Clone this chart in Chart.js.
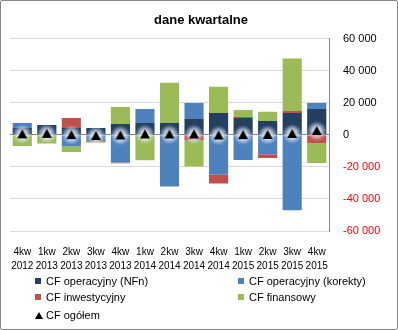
<!DOCTYPE html>
<html>
<head>
<meta charset="utf-8">
<script src="https://cdn.jsdelivr.net/npm/chart.js@4"></script>
<style>
    body { margin: 0; background: #fff; }
    #wrap { position: relative; width: 398px; height: 330px; font-family: "Liberation Sans", Arial, sans-serif; }
    #frame { position: absolute; left: 0; top: 0; width: 396px; height: 328px; border: 1px solid #868686; border-radius: 2px; pointer-events: none; }
    .leg { position: absolute; font-size: 11px; color: #000; white-space: nowrap; line-height: 13px; }
    .leg i { display: inline-block; width: 6px; height: 6px; margin-right: 5px; vertical-align: 1px; }
    .leg b { display: inline-block; width: 0; height: 0; border-left: 4px solid transparent; border-right: 4px solid transparent; border-bottom: 7px solid #000; margin-right: 3px; vertical-align: 0; }
</style>
</head>
<body>
<div id="wrap">
    <canvas id="myChart" width="398" height="330"></canvas>
    <div class="leg" style="left:35px; top:275px"><i style="background:#243F60"></i>CF operacyjny (NFn)</div>
    <div class="leg" style="left:238px; top:275px"><i style="background:#4F81BD"></i>CF operacyjny (korekty)</div>
    <div class="leg" style="left:35px; top:291px"><i style="background:#C0504D"></i>CF inwestycyjny</div>
    <div class="leg" style="left:238px; top:291px"><i style="background:#9BBB59"></i>CF finansowy</div>
    <div class="leg" style="left:35px; top:309px"><b></b>CF ogółem</div>
    <div id="frame"></div>
</div>
<script>
// Quarters (two-line labels)
const quarters = [
    ['4kw', '2012'], ['1kw', '2013'], ['2kw', '2013'], ['3kw', '2013'], ['4kw', '2013'],
    ['1kw', '2014'], ['2kw', '2014'], ['3kw', '2014'], ['4kw', '2014'],
    ['1kw', '2015'], ['2kw', '2015'], ['3kw', '2015'], ['4kw', '2015']
];

// Cash flow components
const cfNfn       = [4200, 6100, 4200, 4200, 6700, 7300, 7300, 9800, 13600, 10500, 8600, 13600, 16100];
const cfKorekty   = [2500, 0, -7100, -3800, -17200, 8800, -32200, 10100, -24900, -15700, -12100, -47100, 3800];
const cfInwest    = [600, -500, 6300, -600, -600, 0, 0, -3400, -5400, 600, -2300, 1300, -5200];
const cfFinans    = [-7000, -5000, -3600, -600, 10700, -15900, 25100, -16300, 16300, 4400, 5700, 32700, -12400];
const cfOgolem    = [300, 600, -200, -800, -400, 200, 200, 200, -400, -200, -100, 500, 2300];

const yTicks = [-60000, -40000, -20000, 0, 20000, 40000, 60000];

// Triangle marker with a soft glow like the Excel one
function makeMarker() {
    const c = document.createElement('canvas');
    c.width = 20; c.height = 20;
    const g = c.getContext('2d');
    const grad = g.createRadialGradient(10, 10, 1, 10, 10, 10);
    grad.addColorStop(0, 'rgba(255,255,255,0.95)');
    grad.addColorStop(0.45, 'rgba(235,242,252,0.7)');
    grad.addColorStop(1, 'rgba(210,225,245,0)');
    g.fillStyle = grad;
    g.fillRect(0, 0, 20, 20);
    g.fillStyle = '#000';
    g.beginPath();
    g.moveTo(10, 5);
    g.lineTo(15, 14);
    g.lineTo(5, 14);
    g.closePath();
    g.fill();
    return c;
}

function fmt(v) {
    const s = Math.abs(v).toString().replace(/\B(?=(\d{3})+(?!\d))/g, ' ');
    return (v < 0 ? '-' : '') + s;
}

function createCfChart() {
    const ctx = document.getElementById('myChart');
    const marker = makeMarker();
    new Chart(ctx, {
        type: 'bar',
        data: {
            labels: quarters,
            datasets: [
                { label: 'CF operacyjny (NFn)', data: cfNfn, backgroundColor: '#243F60', order: 1, stack: 'cf' },
                { label: 'CF operacyjny (korekty)', data: cfKorekty, backgroundColor: '#4F81BD', order: 1, stack: 'cf' },
                { label: 'CF inwestycyjny', data: cfInwest, backgroundColor: '#C0504D', order: 1, stack: 'cf' },
                { label: 'CF finansowy', data: cfFinans, backgroundColor: '#9BBB59', order: 1, stack: 'cf' },
                {
                    type: 'line', label: 'CF ogółem', data: cfOgolem, order: 0, stack: 'total',
                    showLine: false, pointStyle: marker, pointRadius: 10, borderWidth: 0
                }
            ]
        },
        options: {
            responsive: false,
            animation: false,
            layout: { padding: { left: 10, right: 6, bottom: 51 } },
            datasets: { bar: { categoryPercentage: 1, barPercentage: 0.78 } },
            plugins: {
                legend: { display: false },
                tooltip: { enabled: false },
                title: {
                    display: true,
                    text: 'dane kwartalne',
                    color: '#000',
                    font: { family: '"Liberation Sans", Arial, sans-serif', size: 13, weight: 'bold' },
                    padding: { top: 13, bottom: 10 }
                }
            },
            scales: {
                x: {
                    stacked: true,
                    grid: { display: false },
                    border: { display: false },
                    ticks: {
                        color: '#000',
                        maxRotation: 0,
                        autoSkip: false,
                        padding: 6,
                        font: { family: '"Liberation Sans", Arial, sans-serif', size: 10, lineHeight: 1.4 }
                    }
                },
                y: {
                    stacked: true,
                    position: 'right',
                    min: -60000,
                    max: 60000,
                    afterBuildTicks: scale => { scale.ticks = yTicks.map(v => ({ value: v })); },
                    afterFit: scale => { scale.width = 63; },
                    grid: {
                        drawTicks: false,
                        color: c => c.tick && c.tick.value === 0 ? '#868686' : '#d9d9d9',
                        lineWidth: 1
                    },
                    border: { display: true, color: '#868686' },
                    ticks: {
                        padding: 14,
                        callback: v => fmt(v),
                        color: c => c.tick.value < 0 ? '#ff0000' : '#000',
                        font: { family: '"Liberation Sans", Arial, sans-serif', size: 11 }
                    }
                }
            }
        }
    });
}

document.addEventListener("DOMContentLoaded", function () {
    createCfChart();
});
</script>
</body>
</html>
